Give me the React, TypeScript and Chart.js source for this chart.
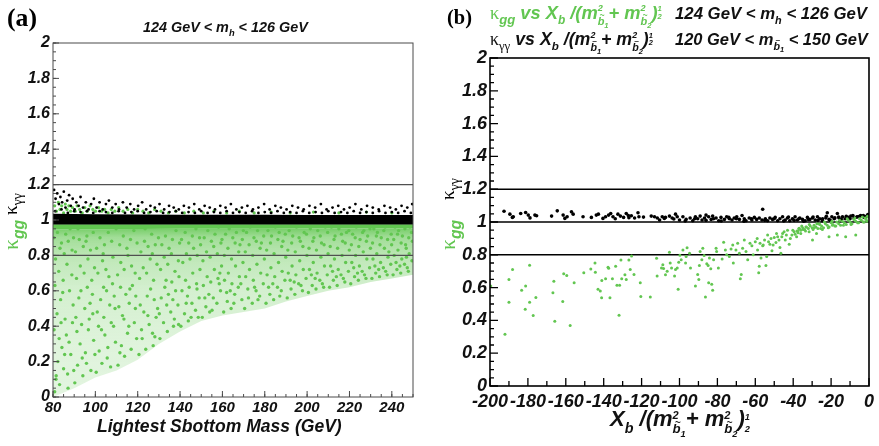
import { useEffect, useRef } from "react";
import { Chart, registerables } from "chart.js";
Chart.register(...registerables);

const GREEN = "#62c651";
const SANS = "'Liberation Sans', Arial, Helvetica, sans-serif";
const SERIF = "'Liberation Serif', 'DejaVu Serif', 'Times New Roman', serif";

// ---------------- shared y axis ----------------
const yTicks = [0, 0.2, 0.4, 0.6, 0.8, 1, 1.2, 1.4, 1.6, 1.8, 2];
const yLabels = ["0", "0.2", "0.4", "0.6", "0.8", "1", "1.2", "1.4", "1.6", "1.8", "2"];

// ---------------- panel (a) ----------------
const aXMin = 80;
const aXMax = 250;
const aXTicks = [80, 100, 120, 140, 160, 180, 200, 220, 240];
const aXLabels = ["80", "100", "120", "140", "160", "180", "200", "220", "240"];
const aRefLines = [1.2, 0.8];

// dense bands (kappa values at band edges)
const aBandX = [80, 100, 120, 140, 160, 180, 200, 220, 250];
const aBlackHi = [1.036, 1.033, 1.031, 1.03, 1.029, 1.029, 1.028, 1.028, 1.028];
const aBlackLo = [0.975, 0.975, 0.975, 0.975, 0.975, 0.975, 0.975, 0.975, 0.975];
const aGreenHi = [0.976, 0.976, 0.976, 0.976, 0.976, 0.976, 0.976, 0.976, 0.976];
const aGreenLo = [0.948, 0.948, 0.949, 0.95, 0.95, 0.951, 0.952, 0.952, 0.952];
// lower envelope of the green scatter
const aEnvX = [80, 90, 100, 110, 120, 130, 140, 150, 160, 170, 180, 190, 200, 210, 220, 230, 240, 250];
const aEnvY = [0, 0.05, 0.11, 0.15, 0.21, 0.3, 0.37, 0.43, 0.46, 0.48, 0.5, 0.54, 0.57, 0.6, 0.62, 0.65, 0.67, 0.69];

// kappa_gg scatter (below band)
const aGreenPts: number[][] = [
  [80.8,0.03],[81.5,0.12],[82.3,0.2],[83.1,0.07],[84.2,0.28],[85.0,0.16],[86.3,0.35],[87.1,0.05],[88.4,0.24],[89.2,0.42],[80.5,0.38],[81.9,0.47],[83.6,0.55],[85.7,0.44],[87.8,0.6],[89.5,0.52],[80.9,0.63],[82.7,0.71],[84.8,0.66],[86.6,0.75],[88.9,0.69],[81.2,0.78],[83.3,0.84],[85.3,0.81],[87.2,0.88],[89.0,0.83],[80.4,0.9],[82.1,0.93],[84.0,0.87],[86.0,0.92],[88.1,0.95],[89.7,0.9],[82.9,0.33],[86.9,0.13],[84.6,0.59],
  [90.3,0.08],[91.6,0.18],[92.8,0.3],[94.1,0.12],[95.3,0.25],[96.7,0.38],[97.9,0.15],[99.2,0.32],[90.8,0.45],[92.2,0.56],[93.5,0.41],[95.0,0.5],[96.2,0.62],[97.5,0.53],[98.8,0.47],[91.1,0.67],[92.9,0.74],[94.7,0.7],[96.5,0.78],[98.3,0.66],[99.6,0.73],[90.6,0.82],[92.4,0.89],[94.3,0.85],[96.0,0.91],[97.7,0.83],[99.0,0.93],[91.8,0.95],[95.6,0.88],[93.8,0.22],[98.6,0.58],
  [100.4,0.14],[101.8,0.26],[103.1,0.19],[104.5,0.35],[105.9,0.28],[107.2,0.17],[108.6,0.4],[109.5,0.31],[100.9,0.48],[102.5,0.55],[104.0,0.45],[105.3,0.6],[106.8,0.52],[108.1,0.64],[109.3,0.5],[101.2,0.7],[103.4,0.77],[105.0,0.72],[106.4,0.68],[108.3,0.79],[100.6,0.84],[102.2,0.9],[104.3,0.86],[106.1,0.93],[107.7,0.88],[109.8,0.95],[103.7,0.81],[107.5,0.42],[102.9,0.38],
  [110.7,0.18],[112.3,0.29],[113.8,0.23],[115.2,0.36],[116.9,0.27],[118.4,0.42],[119.5,0.33],[111.1,0.51],[112.8,0.46],[114.4,0.58],[116.0,0.53],[117.5,0.63],[119.1,0.57],[110.5,0.69],[112.0,0.76],[113.6,0.72],[115.4,0.8],[117.1,0.74],[118.8,0.7],[111.5,0.86],[113.2,0.91],[114.9,0.84],[116.6,0.89],[118.2,0.94],[119.7,0.87],[115.8,0.4],[111.9,0.62],
  [120.6,0.24],[122.1,0.33],[123.8,0.27],[125.4,0.41],[127.0,0.36],[128.7,0.45],[121.2,0.52],[122.9,0.48],[124.5,0.57],[126.1,0.61],[127.8,0.55],[129.4,0.5],[120.9,0.67],[122.6,0.73],[124.2,0.7],[125.9,0.78],[127.5,0.66],[129.1,0.75],[121.5,0.82],[123.2,0.88],[124.9,0.85],[126.6,0.92],[128.3,0.86],[129.8,0.9],[123.5,0.95],[126.9,0.81],[128.1,0.34],
  [130.5,0.33],[132.2,0.42],[134.0,0.37],[135.6,0.48],[137.3,0.44],[139.0,0.52],[131.1,0.56],[132.8,0.62],[134.5,0.58],[136.1,0.65],[137.9,0.6],[139.5,0.68],[130.8,0.72],[132.5,0.79],[134.2,0.75],[135.9,0.81],[137.6,0.71],[139.2,0.77],[131.4,0.86],[133.1,0.91],[134.8,0.84],[136.4,0.89],[138.1,0.94],[139.8,0.87],[133.7,0.52],[136.9,0.4],
  [140.4,0.4],[142.1,0.47],[143.9,0.43],[145.6,0.53],[147.3,0.49],[149.0,0.56],[140.9,0.6],[142.6,0.66],[144.3,0.62],[146.0,0.7],[147.8,0.64],[149.4,0.72],[141.3,0.76],[143.0,0.81],[144.7,0.78],[146.4,0.84],[148.1,0.8],[149.7,0.86],[140.7,0.89],[142.4,0.93],[144.1,0.87],[145.8,0.91],[147.5,0.95],[149.2,0.9],[143.5,0.57],[148.6,0.45],
  [150.5,0.45],[152.2,0.51],[154.0,0.48],[155.7,0.56],[157.4,0.53],[159.1,0.6],[151.0,0.63],[152.8,0.68],[154.5,0.65],[156.2,0.72],[157.9,0.67],[159.6,0.74],[150.8,0.77],[152.5,0.82],[154.2,0.79],[155.9,0.85],[157.6,0.81],[159.3,0.87],[151.4,0.9],[153.1,0.94],[154.8,0.88],[156.5,0.92],[158.2,0.96],[159.8,0.89],[153.6,0.58],[158.8,0.7],
  [160.6,0.48],[162.3,0.54],[164.1,0.5],[165.8,0.58],[167.5,0.62],[169.2,0.55],[161.0,0.66],[162.8,0.7],[164.5,0.64],[166.2,0.74],[168.0,0.68],[169.7,0.76],[160.9,0.8],[162.6,0.84],[164.3,0.78],[166.0,0.87],[167.7,0.82],[169.4,0.89],[161.5,0.92],[163.2,0.95],[164.9,0.9],[166.6,0.93],[168.3,0.86],[169.9,0.94],[163.7,0.6],
  [170.5,0.5],[172.3,0.56],[174.1,0.53],[175.9,0.6],[177.6,0.57],[179.3,0.64],[171.0,0.68],[172.8,0.72],[174.6,0.66],[176.3,0.75],[178.1,0.7],[179.8,0.78],[170.8,0.82],[172.6,0.86],[174.3,0.8],[176.0,0.88],[177.8,0.84],[179.5,0.91],[171.4,0.93],[173.1,0.96],[174.9,0.9],[176.6,0.94],[178.4,0.87],[175.2,0.62],
  [180.6,0.53],[182.4,0.58],[184.2,0.55],[186.0,0.62],[187.8,0.6],[189.5,0.66],[181.1,0.69],[182.9,0.73],[184.7,0.68],[186.5,0.76],[188.2,0.71],[189.9,0.79],[180.9,0.83],[182.7,0.87],[184.4,0.81],[186.2,0.89],[188.0,0.85],[189.7,0.92],[181.5,0.94],[183.2,0.91],[185.0,0.96],[186.8,0.93],[188.6,0.88],[183.8,0.64],
  [190.6,0.56],[192.4,0.61],[194.2,0.58],[196.0,0.64],[197.8,0.6],[199.5,0.67],[191.1,0.7],[192.9,0.74],[194.7,0.69],[196.5,0.77],[198.2,0.72],[199.9,0.8],[190.9,0.83],[192.7,0.87],[194.4,0.82],[196.2,0.9],[198.0,0.85],[199.7,0.92],[191.5,0.94],[193.2,0.91],[195.0,0.96],[196.8,0.88],[198.6,0.93],[193.9,0.65],
  [200.6,0.59],[202.4,0.63],[204.2,0.61],[206.0,0.66],[207.8,0.62],[209.5,0.69],[201.1,0.72],[202.9,0.76],[204.7,0.7],[206.5,0.79],[208.2,0.74],[209.9,0.81],[200.9,0.84],[202.7,0.88],[204.4,0.83],[206.2,0.91],[208.0,0.86],[209.7,0.93],[201.5,0.95],[203.2,0.9],[205.0,0.94],[206.8,0.87],[208.6,0.96],[203.8,0.67],
  [210.6,0.62],[212.4,0.66],[214.2,0.63],[216.0,0.69],[217.8,0.65],[219.5,0.71],[211.1,0.74],[212.9,0.78],[214.7,0.72],[216.5,0.8],[218.2,0.76],[219.9,0.83],[210.9,0.85],[212.7,0.89],[214.4,0.84],[216.2,0.92],[218.0,0.87],[219.7,0.94],[211.5,0.96],[213.2,0.91],[215.0,0.95],[216.8,0.88],[218.6,0.93],[213.8,0.68],
  [220.6,0.64],[222.4,0.68],[224.2,0.66],[226.0,0.71],[227.8,0.67],[229.5,0.73],[221.1,0.76],[222.9,0.8],[224.7,0.74],[226.5,0.82],[228.2,0.78],[229.9,0.84],[220.9,0.86],[222.7,0.9],[224.4,0.85],[226.2,0.93],[228.0,0.88],[229.7,0.95],[221.5,0.92],[223.2,0.96],[225.0,0.89],[226.8,0.94],[228.6,0.91],[223.8,0.7],
  [230.6,0.67],[232.4,0.7],[234.2,0.68],[236.0,0.73],[237.8,0.69],[239.5,0.75],[231.1,0.78],[232.9,0.81],[234.7,0.76],[236.5,0.84],[238.2,0.79],[239.9,0.86],[230.9,0.87],[232.7,0.91],[234.4,0.86],[236.2,0.94],[238.0,0.89],[239.7,0.92],[231.5,0.95],[233.2,0.93],[235.0,0.9],[236.8,0.96],[238.6,0.82],[233.8,0.72],
  [240.6,0.69],[242.4,0.72],[244.2,0.7],[246.0,0.75],[247.8,0.71],[249.5,0.77],[241.1,0.8],[242.9,0.83],[244.7,0.78],[246.5,0.86],[248.2,0.81],[249.7,0.88],[240.9,0.89],[242.7,0.92],[244.4,0.87],[246.2,0.95],[248.0,0.9],[249.3,0.93],[241.5,0.96],[243.2,0.94],[245.0,0.91],[246.8,0.84],[248.6,0.96],[243.8,0.74],[247.3,0.73],
  [81.4,0.1],[83.8,0.42],[85.5,0.24],[87.6,0.31],[89.8,0.15],[91.3,0.37],[93.2,0.6],[95.8,0.19],[97.1,0.44],[99.8,0.24],[101.5,0.4],[103.9,0.62],[105.6,0.22],[108.9,0.57],[111.6,0.25],[113.5,0.44],[116.3,0.61],[118.9,0.5],[121.8,0.38],[124.8,0.46],[127.3,0.29],[130.2,0.47],[133.4,0.66],[136.6,0.55],[139.3,0.41],[142.9,0.53],[145.2,0.45],[148.0,0.61],[151.7,0.56],[155.1,0.49],[158.5,0.64],[162.0,0.59],[165.4,0.53],[168.7,0.64],[172.0,0.61],[176.8,0.55],[181.8,0.62],[187.1,0.57],[192.0,0.66],[197.1,0.63],[202.0,0.69],[207.2,0.64],[212.0,0.71],[217.1,0.67],[222.0,0.73],[227.1,0.69],[232.0,0.74],[237.1,0.71],[242.0,0.76],[246.9,0.79],
];

// kappa_gg points above the band
const aGreenTopPts: number[][] = [
  [80.8,1.08],[81.6,1.05],[82.5,1.1],[83.3,1.06],[84.1,1.08],[85.0,1.04],[85.8,1.09],[86.6,1.06],[87.5,1.08],[88.3,1.05],[89.2,1.07],[90.5,1.05],[91.4,1.08],[92.6,1.06],[93.8,1.04],[95.0,1.07],[96.2,1.05],[97.5,1.08],[98.8,1.06],[100.1,1.05],[101.5,1.07],[103.0,1.05],[104.4,1.06],[106.0,1.04],[107.5,1.06],[109.2,1.05],[111.0,1.07],[113.1,1.05],[115.3,1.06],[117.6,1.04],[120.0,1.06],[122.5,1.05],[125.2,1.04],[128.0,1.06],[131.0,1.05],[134.5,1.04],[138.0,1.05],[142.0,1.04],[146.5,1.05],[151.0,1.04],[156.0,1.05],[162.0,1.04],[168.0,1.05],[175.0,1.04],[183.0,1.045],[192.0,1.04],[203.0,1.045],[215.0,1.04],[228.0,1.045],[240.0,1.04],
];

// kappa_gamma-gamma points above the band
const aBlackPts: number[][] = [
  [80.5,1.17],[81.2,1.12],[82.0,1.15],[82.8,1.09],[83.5,1.13],[84.3,1.1],[85.1,1.16],[85.9,1.07],[86.7,1.11],[87.6,1.14],[88.4,1.08],[89.3,1.12],[90.2,1.06],[91.0,1.1],[92.1,1.08],[93.0,1.13],[94.2,1.07],[95.5,1.1],[96.8,1.06],[98.0,1.09],[99.3,1.12],[100.6,1.07],[102.0,1.1],[103.5,1.06],[105.0,1.09],[106.4,1.11],[108.0,1.07],[109.6,1.09],[111.2,1.06],[113.0,1.1],[114.8,1.07],[116.5,1.09],[118.3,1.06],[120.2,1.08],[122.1,1.1],[124.0,1.06],[126.0,1.08],[128.1,1.07],[130.3,1.09],[132.5,1.06],[134.8,1.08],[137.0,1.07],[139.4,1.06],[141.8,1.08],[144.2,1.07],[146.7,1.09],[149.1,1.06],[151.6,1.08],[154.0,1.07],[156.5,1.06],[159.0,1.08],[161.5,1.07],[164.0,1.09],[166.6,1.06],[169.2,1.07],[171.8,1.08],[174.4,1.06],[177.0,1.07],[179.7,1.09],[182.3,1.06],[185.0,1.08],[187.6,1.07],[190.3,1.06],[193.0,1.08],[195.7,1.07],[198.4,1.06],[201.1,1.08],[203.8,1.07],[206.5,1.09],[209.2,1.06],[212.0,1.07],[214.7,1.08],[217.4,1.06],[220.1,1.07],[222.8,1.09],[225.6,1.06],[228.3,1.08],[231.0,1.07],[233.8,1.06],[236.5,1.08],[239.2,1.07],[241.9,1.06],[244.6,1.08],[247.3,1.07],[249.6,1.09],
  [81,1.05],[84,1.06],[87,1.04],[90,1.05],[93,1.045],[96,1.05],[99,1.04],[102,1.05],[105,1.045],[108,1.04],[111,1.05],[114,1.04],[117,1.045],[120,1.05],[123,1.04],[126,1.045],[129,1.05],[132,1.04],[135,1.045],[138,1.05],[141,1.04],[144,1.045],[147,1.04],[150,1.05],[153,1.04],[156,1.045],[159,1.04],[162,1.05],[165,1.04],[168,1.045],[171,1.04],[174,1.05],[177,1.04],[180,1.045],[183,1.04],[186,1.05],[189,1.04],[192,1.045],[195,1.04],[198,1.05],[201,1.04],[204,1.045],[207,1.04],[210,1.05],[213,1.04],[216,1.045],[219,1.04],[222,1.05],[225,1.04],[228,1.045],[231,1.04],[234,1.05],[237,1.04],[240,1.045],[243,1.04],[246,1.05],[249,1.04],
];

// ---------------- panel (b) ----------------
const bXMin = -200;
const bXMax = 0;
const bXTicks = [-200, -180, -160, -140, -120, -100, -80, -60, -40, -20, 0];
const bXLabels = ["-200", "-180", "-160", "-140", "-120", "-100", "-80", "-60", "-40", "-20", "0"];
const bRefLines = [1.2, 1.0, 0.8];

const bBlackPts: number[][] = [
  [-192.6,1.066],[-189.5,1.048],[-188.2,1.028],[-187.7,1.032],[-183.8,1.052],[-181.2,1.058],[-179.8,1.042],[-178.9,1.025],[-176.3,1.042],[-175.4,1.038],
  [-167.5,1.036],[-164.5,1.068],[-161.4,1.042],[-160.5,1.022],[-159.3,1.032],[-157,1.062],[-156.1,1.048],[-150.9,1.032],[-146.5,1.028],[-143.9,1.042],
  [-142.8,1.048],[-140.4,1.022],[-139,1.032],[-137.4,1.042],[-136.3,1.052],[-135.1,1.032],[-133.9,1.02],[-132.5,1.048],[-131.2,1.036],[-129.5,1.028],
  [-128.1,1.052],[-126.7,1.026],[-125.4,1.038],[-123.7,1.024],[-121.9,1.056],[-121.4,1.032],[-114.9,1.036],[-113.2,1.032],[-111.7,1.024],[-110.5,1.012],
  [-109.1,1.032],[-107.4,1.028],[-105.3,1.036],[-103.9,1.024],[-102.1,1.048],[-101.2,1.032],[-100,1.012],[-98.2,1.032],[-96.5,1.016],[-94.4,1.024],
  [-93,1.008],[-91.6,1.032],[-90.4,1.02],[-89.1,1.036],[-88.1,1.012],[-86.8,1.024],[-86,1.042],[-84.6,1.032],[-83.3,1.016],[-82.5,1.036],
  [-80.7,1.024],[-79.3,1.008],[-78.1,1.028],[-76.3,1.016],[-75.1,1.032],[-73.7,1.02],[-72.3,1.012],[-71.1,1.024],[-69.8,1.032],[-68.4,1.016],
  [-67,1.04],[-65.8,1.02],[-64.9,1.008],[-63.2,1.024],[-61.8,1.012],[-60.5,1.028],[-59.3,1.016],[-57.9,1.024],[-56.1,1.078],[-56.5,1.012],
  [-54.7,1.02],[-53.5,1.008],[-52.3,1.024],[-50.9,1.016],[-49.5,1.028],[-48.2,1.008],[-47,1.02],[-45.6,1.032],[-44.2,1.012],[-43,1.024],
  [-41.8,1.008],[-40.4,1.02],[-39,1.032],[-37.8,1.012],[-36.5,1.024],[-35.1,1.016],[-33.7,1.008],[-32.5,1.028],[-31.2,1.016],[-29.8,1.024],
  [-28.4,1.012],[-27.2,1.032],[-26,1.02],[-24.6,1.008],[-22,1.056],[-22.8,1.024],[-21.1,1.016],[-19.6,1.032],[-18.4,1.02],[-16.7,1.052],
  [-15.8,1.024],[-14,1.032],[-12.6,1.02],[-10.9,1.028],[-9.6,1.036],[-7.9,1.024],[-6.1,1.032],[-4.4,1.04],[-2.6,1.028],[-1.2,1.036],
  [-39.5,1.01],[-37,1.02],[-34.5,1.005],[-32,1.015],[-29.5,1.03],[-27,1.01],[-24.5,1.02],[-22.5,1.035],[-20.5,1.01],[-18,1.025],
  [-16,1.03],[-14.5,1.015],[-12,1.035],[-10,1.02],[-8.5,1.04],[-6.5,1.03],[-5,1.035],[-3,1.04],[-1.8,1.03],[-0.6,1.045],
  [-55,1.01],[-50,1.02],[-45,1.006],[-42.5,1.03],[-62,1.02],[-66,1.005],[-70,1.02],[-74,1.028],[-78,1.006],[-82,1.02],
  [-86,1.01],[-92,1.02],[-97,1.006],[-103,1.018],[-108,1.022],[-119,1.03],[-127,1.04],
];

const bGreenPts: number[][] = [
  [-199.6,0.61],[-192.1,0.315],[-190,0.65],[-190,0.51],[-188.1,0.71],[-183.3,0.584],[-181.2,0.61],[-181.4,0.468],[-179.1,0.737],[-179.1,0.51],
  [-177.2,0.43],[-175.8,0.54],[-166.8,0.568],[-166.3,0.638],[-165.8,0.395],[-161.6,0.515],[-161.1,0.684],[-159.5,0.674],[-157.7,0.369],[-155.6,0.63],
  [-150.5,0.69],[-146.8,0.713],[-144.6,0.75],[-144.4,0.694],[-143,0.59],[-141.8,0.58],[-141.1,0.538],[-141,0.644],[-139,0.654],[-137.7,0.724],
  [-137.4,0.718],[-136.7,0.538],[-135.4,0.654],[-133.7,0.73],[-133,0.614],[-131.9,0.431],[-131.6,0.614],[-130.9,0.769],[-130.5,0.654],[-128.8,0.678],
  [-128.1,0.65],[-126.7,0.769],[-126,0.71],[-125.3,0.793],[-124,0.68],[-120.7,0.63],[-120.4,0.545],[-115.4,0.542],[-112.1,0.779],[-111.8,0.67],
  [-109.5,0.72],[-108.8,0.74],[-108.4,0.717],[-107.4,0.678],[-106.5,0.7],[-105.3,0.815],[-104.9,0.75],[-104.2,0.72],[-102.6,0.67],[-102.1,0.71],
  [-101.2,0.72],[-100.7,0.59],[-100.4,0.755],[-99.8,0.797],[-99.1,0.77],[-98.2,0.829],[-96.8,0.75],[-96.5,0.79],[-96,0.843],[-94.7,0.81],
  [-94.2,0.72],[-91.6,0.61],[-90.4,0.68],[-89.8,0.65],[-89.5,0.735],[-89.1,0.82],[-88.2,0.77],[-87.7,0.84],[-87,0.795],[-86.3,0.542],
  [-85.6,0.745],[-84.9,0.735],[-84.6,0.63],[-84.2,0.78],[-83.5,0.715],[-83,0.62],[-82.5,0.584],[-82,0.77],[-80.7,0.84],[-80.4,0.82],
  [-79.5,0.72],[-77.5,0.775],[-76.7,0.877],[-75.8,0.83],[-75.1,0.8],[-73.7,0.79],[-72.8,0.835],[-71.9,0.86],[-71.6,0.75],[-70.2,0.83],
  [-69.3,0.87],[-68.4,0.81],[-67.9,0.654],[-67.4,0.68],[-66.7,0.84],[-65.8,0.89],[-64.9,0.82],[-64,0.77],[-62.8,0.87],[-61.8,0.855],
  [-61.1,0.8],[-60,0.88],[-58.8,0.83],[-58.2,0.69],[-57.9,0.73],[-57,0.78],[-56.1,0.855],[-55.1,0.89],[-54.4,0.735],[-54,0.79],
  [-53.5,0.92],[-52.3,0.865],[-51.2,0.825],[-50,0.905],[-49.1,0.875],[-48.2,0.91],[-47,0.845],[-46.5,0.81],[-45.6,0.93],[-44.2,0.89],
  [-43,0.95],[-42.1,0.865],[-40.7,0.92],[-39.5,0.94],[-38.2,0.91],[-36.8,0.962],[-36,0.93],[-34.7,0.955],[-33.3,0.97],[-31.6,0.94],
  [-29.8,0.89],[-28.9,0.965],[-27.7,0.93],[-26.3,0.99],[-24.6,0.955],[-21.1,0.91],[-19.3,0.98],[-16.7,0.92],[-12.3,0.91],[-7,0.92],
  [-59,0.9],[-57.5,0.87],[-55.8,0.86],[-53,0.88],[-51.7,0.9],[-50.6,0.86],[-48.8,0.93],[-47.5,0.89],[-46,0.91],[-44.8,0.94],
  [-43.6,0.92],[-41.5,0.9],[-40.2,0.95],[-39,0.925],[-37.5,0.945],
  [-38,0.945],[-37,0.96],[-36,0.95],[-35,0.965],[-34,0.955],[-33,0.97],[-32,0.96],[-31,0.975],[-30,0.965],[-29,0.98],
  [-28,0.97],[-27,0.96],[-26,0.985],[-25,0.975],[-24,0.965],[-23,0.99],[-22,0.98],[-21,0.97],[-20,0.995],[-19,0.985],
  [-18,0.975],[-17,1.0],[-16,0.99],[-15,0.98],[-14,1.005],[-13,0.995],[-12,0.985],[-11,1.01],[-10,1.0],[-9,0.99],
  [-8,1.015],[-7,1.005],[-6,0.995],[-5,1.02],[-4,1.01],[-3,1.0],[-2,1.025],[-1.5,1.015],[-1,1.005],[-0.5,1.03],
  [-37.5,0.935],[-33.5,0.945],[-29.5,0.955],[-25.5,0.96],[-21.5,0.965],[-17.5,0.975],[-13.5,0.98],[-9.5,0.985],[-5.5,0.995],[-2.5,1.0],
  [-35.5,0.975],[-31.5,0.985],[-27.5,0.99],[-23.5,1.0],[-19.5,1.005],[-15.5,1.01],[-11.5,1.02],[-7.5,1.025],[-3.5,1.03],[-0.8,1.035],
];

// ---------------- helpers ----------------
type Seg = { t: string; k?: number; d?: number; back?: boolean; serif?: boolean; tilde?: boolean; color?: string; plain?: boolean };

function fontOf(s: Seg, size: number) {
  const px = size * (s.k ?? 1);
  if (s.serif) return `${px}px ${SERIF}`;
  if (s.plain) return `bold ${px}px ${SERIF}`;
  return `italic bold ${px}px ${SANS}`;
}

function layoutRich(ctx: CanvasRenderingContext2D, segs: Seg[], size: number) {
  let cx = 0, ps = 0, pe = 0;
  const out: { s: Seg; x: number; w: number }[] = [];
  for (const s of segs) {
    ctx.font = fontOf(s, size);
    const w = ctx.measureText(s.t).width;
    const start = s.back ? ps : cx;
    const end = start + w;
    const ne = s.back ? Math.max(pe, end) : end;
    out.push({ s, x: start, w });
    ps = start;
    pe = ne;
    cx = ne;
  }
  return { out, width: cx };
}

function drawRich(
  ctx: CanvasRenderingContext2D, segs: Seg[], x: number, y: number, size: number, color: string,
  opts: { align?: "left" | "center" | "right"; fit?: number; rotate?: boolean } = {}
) {
  let sz = size;
  let L = layoutRich(ctx, segs, sz);
  if (opts.fit) {
    sz = (sz * opts.fit) / L.width;
    L = layoutRich(ctx, segs, sz);
  }
  const x0 = opts.align === "center" ? -L.width / 2 : opts.align === "right" ? -L.width : 0;
  ctx.save();
  ctx.translate(x, y);
  if (opts.rotate) ctx.rotate(-Math.PI / 2);
  ctx.textBaseline = "alphabetic";
  for (const o of L.out) {
    ctx.font = fontOf(o.s, sz);
    ctx.fillStyle = o.s.color ?? color;
    ctx.textAlign = "left";
    const dy = (o.s.d ?? 0) * sz;
    ctx.fillText(o.s.t, x0 + o.x, dy);
    if (o.s.tilde) {
      const ts = sz * (o.s.k ?? 1);
      ctx.font = `bold ${ts * 0.75}px ${SANS}`;
      ctx.textAlign = "center";
      ctx.fillText("~", x0 + o.x + o.w / 2 + ts * 0.1, dy - ts * 0.62);
    }
  }
  ctx.restore();
}

function range(a: number, b: number, step: number) {
  const r: number[] = [];
  for (let v = a; v <= b + 1e-9; v += step) r.push(Math.round(v * 1000) / 1000);
  return r;
}

type FrameCfg = {
  color: string; width: number; tickColor: string; tickWidth: number;
  xMajor: number[]; xMinor: number[]; yMajor: number[]; yMinor: number[];
  xMaj: number; xMin: number; yMaj: number; yMin: number;
};

function drawFrame(chart: any, f: FrameCfg) {
  const { ctx, chartArea: a } = chart;
  const xs = chart.scales.x, ys = chart.scales.y;
  ctx.save();
  ctx.strokeStyle = f.tickColor;
  ctx.lineWidth = f.tickWidth;
  ctx.beginPath();
  const xt = (vals: number[], len: number) => {
    for (const v of vals) {
      const p = xs.getPixelForValue(v);
      ctx.moveTo(p, a.bottom);
      ctx.lineTo(p, a.bottom - len);
    }
  };
  const yt = (vals: number[], len: number) => {
    for (const v of vals) {
      const p = ys.getPixelForValue(v);
      ctx.moveTo(a.left, p);
      ctx.lineTo(a.left + len, p);
    }
  };
  xt(f.xMinor, f.xMin);
  xt(f.xMajor, f.xMaj);
  yt(f.yMinor, f.yMin);
  yt(f.yMajor, f.yMaj);
  ctx.stroke();
  ctx.strokeStyle = f.color;
  ctx.lineWidth = f.width;
  ctx.strokeRect(a.left, a.top, a.right - a.left, a.bottom - a.top);
  ctx.restore();
}

const toXY = (pts: number[][]) => pts.map(([x, y]) => ({ x, y }));
const lineXY = (xs: number[], ys: number[]) => xs.map((x, i) => ({ x, y: ys[i] }));

function tickFont(size: number) {
  return { family: SANS, size, style: "italic" as const, weight: "bold" as const };
}

function refDataset(v: number, x0: number, x1: number, color: string, w: number) {
  return {
    type: "line" as const,
    data: [{ x: x0, y: v }, { x: x1, y: v }],
    borderColor: color,
    borderWidth: w,
    pointRadius: 0,
    fill: false,
  };
}

const gridOff = { display: false, drawTicks: false, tickLength: 0 };

// texts
const kgg: Seg[] = [{ t: "κ", serif: true }, { t: "gg", k: 0.72, d: 0.28 }];
const kyy: Seg[] = [{ t: "κ", serif: true }, { t: "γγ", serif: true, k: 0.72, d: 0.28 }];
function xbRatio(supD: number, h1: number, h2: number): Seg[] {
  return [
    { t: "X" }, { t: "b", k: 0.65, d: 0.3 }, { t: " /(m" },
    { t: "2", k: 0.5, d: supD }, { t: "b", k: 0.6, d: 0.32, back: true, tilde: true }, { t: "1", k: 0.42, d: 0.5 },
    { t: "+ m" },
    { t: "2", k: 0.5, d: supD }, { t: "b", k: 0.6, d: 0.32, back: true, tilde: true }, { t: "2", k: 0.42, d: 0.5 },
    { t: ")" }, { t: "1", k: 0.42, d: h1 }, { t: "2", k: 0.42, d: h2, back: true },
  ];
}

function PanelA() {
  const ref = useRef<HTMLCanvasElement>(null);
  useEffect(() => {
    const canvas = ref.current!;
    const gradient = (c: any) => {
      const ch = c.chart;
      if (!ch.chartArea) return "rgba(98,198,81,0.3)";
      const y = ch.scales.y;
      const g = ch.ctx.createLinearGradient(0, y.getPixelForValue(0.95), 0, y.getPixelForValue(0));
      g.addColorStop(0, "rgba(98,198,81,0.85)");
      g.addColorStop(0.05, "rgba(98,198,81,0.6)");
      g.addColorStop(0.16, "rgba(98,198,81,0.42)");
      g.addColorStop(0.35, "rgba(98,198,81,0.28)");
      g.addColorStop(0.7, "rgba(98,198,81,0.2)");
      g.addColorStop(1, "rgba(98,198,81,0.18)");
      return g;
    };
    const frame: FrameCfg = {
      color: "#4a4a4a", width: 1, tickColor: "#4a4a4a", tickWidth: 1,
      xMajor: aXTicks, xMinor: range(aXMin, aXMax, 5), yMajor: yTicks, yMinor: range(0, 2, 0.05),
      xMaj: 6, xMin: 3, yMaj: 6, yMin: 3,
    };
    const chart = new Chart(canvas, {
      type: "scatter",
      data: {
        datasets: [
          ...aRefLines.map((v) => refDataset(v, aXMin, aXMax, "#505050", 1.2)),
          { data: toXY(aBlackPts), backgroundColor: "#000", borderWidth: 0, pointRadius: 1.4 },
          { type: "line", data: lineXY(aBandX, aBlackHi), borderWidth: 0, borderColor: "#000", backgroundColor: "#000", pointRadius: 0, fill: "+1" },
          { type: "line", data: lineXY(aBandX, aBlackLo), borderWidth: 0, pointRadius: 0, fill: false },
          { data: toXY(aGreenTopPts), backgroundColor: GREEN, borderWidth: 0, pointRadius: 1.6 },
          { data: toXY(aGreenPts), backgroundColor: GREEN, borderWidth: 0, pointRadius: 1.7 },
          { type: "line", data: lineXY(aBandX, aGreenHi), borderWidth: 0, backgroundColor: GREEN, pointRadius: 0, fill: "+1" },
          { type: "line", data: lineXY(aBandX, aGreenLo), borderWidth: 0, backgroundColor: gradient, pointRadius: 0, fill: "+1" },
          { type: "line", data: lineXY(aEnvX, aEnvY), borderWidth: 0, pointRadius: 0, fill: false },
        ] as any,
      },
      options: {
        animation: false,
        responsive: false,
        maintainAspectRatio: false,
        events: [],
        layout: { padding: { top: 43, right: 27, left: 0, bottom: 0 } },
        plugins: { legend: { display: false }, tooltip: { enabled: false } },
        scales: {
          x: {
            type: "linear", min: aXMin, max: aXMax,
            afterBuildTicks: (s: any) => { s.ticks = aXTicks.map((v) => ({ value: v })); },
            afterFit: (s: any) => { s.height = 49; },
            grid: gridOff, border: { display: false },
            ticks: {
              autoSkip: false, maxRotation: 0, padding: 2, color: "#111", font: tickFont(15),
              callback: (v: any) => aXLabels[aXTicks.indexOf(Number(v))] ?? "",
            },
          },
          y: {
            type: "linear", min: 0, max: 2,
            afterBuildTicks: (s: any) => { s.ticks = yTicks.map((v) => ({ value: v })); },
            afterFit: (s: any) => { s.width = 53; },
            grid: gridOff, border: { display: false },
            ticks: {
              padding: 3, color: "#111", font: tickFont(16),
              callback: (v: any) => yLabels[yTicks.findIndex((t) => Math.abs(t - Number(v)) < 1e-6)] ?? "",
            },
          },
        },
      },
      plugins: [
        {
          id: "decoA",
          afterDatasetsDraw(ch: any) { drawFrame(ch, frame); },
          afterDraw(ch: any) {
            const ctx = ch.ctx as CanvasRenderingContext2D;
            drawRich(ctx, [{ t: "(a)", plain: true }], 7, 26, 22, "#000", { fit: 30 });
            drawRich(ctx, [{ t: "124 GeV < m" }, { t: "h", k: 0.65, d: 0.3 }, { t: " < 126 GeV" }], 143, 32, 14, "#111", { fit: 165 });
            drawRich(ctx, [{ t: "Lightest Sbottom Mass (GeV)" }], 97, 432, 17, "#111", { fit: 245 });
            drawRich(ctx, kyy, 17, 215, 16, "#000", { rotate: true, fit: 22 });
            drawRich(ctx, kgg, 18, 250, 16, GREEN, { rotate: true, fit: 30 });
          },
        },
      ],
    } as any);
    return () => chart.destroy();
  }, []);
  return <canvas ref={ref} width={440} height={446} style={{ display: "block", width: 440, height: 446 }} />;
}

function PanelB() {
  const ref = useRef<HTMLCanvasElement>(null);
  useEffect(() => {
    const canvas = ref.current!;
    const frame: FrameCfg = {
      color: "#000", width: 1.6, tickColor: "#000", tickWidth: 1.3,
      xMajor: bXTicks, xMinor: range(bXMin, bXMax, 10), yMajor: yTicks, yMinor: range(0, 2, 0.05),
      xMaj: 8, xMin: 5, yMaj: 8, yMin: 4,
    };
    const headRatio = xbRatio(-0.42, -0.42, -0.02);
    const titleRatio = xbRatio(-0.3, -0.28, 0.26);
    const chart = new Chart(canvas, {
      type: "scatter",
      data: {
        datasets: [
          { data: toXY(bGreenPts), backgroundColor: GREEN, borderWidth: 0, pointRadius: 1.5 },
          { data: toXY(bBlackPts), backgroundColor: "#000", borderWidth: 0, pointRadius: 1.8 },
          ...bRefLines.map((v) => refDataset(v, bXMin, bXMax, "#000", 1.5)),
        ] as any,
      },
      options: {
        animation: false,
        responsive: false,
        maintainAspectRatio: false,
        events: [],
        layout: { padding: { top: 58, right: 9, left: 0, bottom: 0 } },
        plugins: { legend: { display: false }, tooltip: { enabled: false } },
        scales: {
          x: {
            type: "linear", min: bXMin, max: bXMax,
            afterBuildTicks: (s: any) => { s.ticks = bXTicks.map((v) => ({ value: v })); },
            afterFit: (s: any) => { s.height = 60; },
            grid: gridOff, border: { display: false },
            ticks: {
              autoSkip: false, maxRotation: 0, padding: 5, color: "#111", font: tickFont(18),
              callback: (v: any) => bXLabels[bXTicks.indexOf(Number(v))] ?? "",
            },
          },
          y: {
            type: "linear", min: 0, max: 2,
            afterBuildTicks: (s: any) => { s.ticks = yTicks.map((v) => ({ value: v })); },
            afterFit: (s: any) => { s.width = 50; },
            grid: gridOff, border: { display: false },
            ticks: {
              padding: 3, color: "#111", font: tickFont(18),
              callback: (v: any) => yLabels[yTicks.findIndex((t) => Math.abs(t - Number(v)) < 1e-6)] ?? "",
            },
          },
        },
      },
      plugins: [
        {
          id: "decoB",
          afterDatasetsDraw(ch: any) { drawFrame(ch, frame); },
          afterDraw(ch: any) {
            const ctx = ch.ctx as CanvasRenderingContext2D;
            drawRich(ctx, [{ t: "(b)", plain: true }], 7, 24, 22, "#000", { fit: 25 });
            drawRich(ctx, [...kgg, { t: " vs " }, ...headRatio], 50, 19, 16, GREEN, { fit: 172 });
            drawRich(ctx, [{ t: "124 GeV < m" }, { t: "h", k: 0.65, d: 0.3 }, { t: " < 126 GeV" }], 235, 19, 16, "#111", { fit: 192 });
            drawRich(ctx, [...kyy, { t: " vs " }, ...headRatio], 50, 45, 16, "#111", { fit: 163 });
            drawRich(ctx, [{ t: "120 GeV < m" }, { t: "b", k: 0.65, d: 0.3, tilde: true }, { t: "1", k: 0.45, d: 0.45 }, { t: " < 150 GeV" }], 235, 45, 16, "#111", { fit: 193 });
            drawRich(ctx, titleRatio, 170, 426, 18, "#111", { fit: 140 });
            drawRich(ctx, kyy, 14, 200, 16, "#000", { rotate: true, fit: 22 });
            drawRich(ctx, kgg, 15, 250, 18, GREEN, { rotate: true, fit: 30 });
          },
        },
      ],
    } as any);
    return () => chart.destroy();
  }, []);
  return <canvas ref={ref} width={439} height={446} style={{ display: "block", width: 439, height: 446 }} />;
}

export default function App() {
  return (
    <div style={{ position: "fixed", left: 0, top: 0, width: 879, height: 446, background: "#fff", overflow: "hidden" }}>
      <div style={{ position: "absolute", left: 0, top: 0 }}>
        <PanelA />
      </div>
      <div style={{ position: "absolute", left: 440, top: 0 }}>
        <PanelB />
      </div>
    </div>
  );
}
